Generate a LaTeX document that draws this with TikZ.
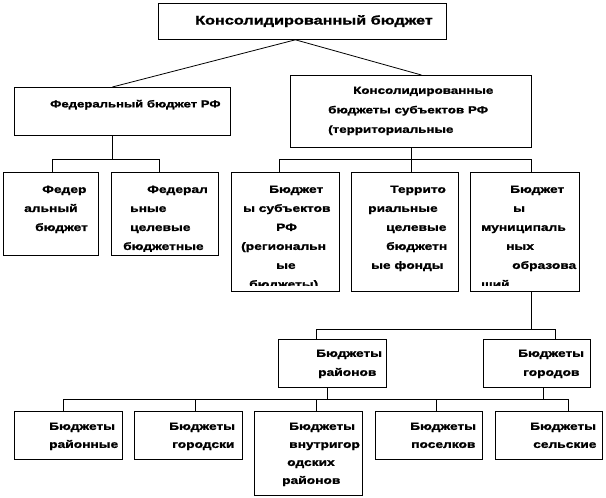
\documentclass[tikz,border=0pt]{standalone}
\usepackage{fontspec}
\setmainfont[FakeStretch=1.3, BoldFeatures={FakeBold=1.5}]{Liberation Sans}

\tikzset{
	box/.style={draw, line width=0.8pt, inner sep=0pt, anchor=north west},
	txt/.style={inner sep=0pt, anchor=north west, align=left, font=\bfseries\fontsize{10.6}{19}\selectfont},
	txtlow/.style={txt, font=\bfseries\fontsize{10.6}{18}\selectfont},
	link/.style={line width=0.8pt}
}

\begin{document}
\begin{tikzpicture}[x=1pt, y=-1pt]
	\useasboundingbox (0,0) rectangle (606,498);

	% Top box
	\node[box, minimum width=288, minimum height=36] (top) at (158,3) {};
	\node[txt, font=\bfseries\fontsize{12.5}{16}\selectfont] (topT) at (195,15) {Консолидированный бюджет};

	% Second level
	\node[box, minimum width=216, minimum height=48] (fed) at (14,87) {};
	\node[txt, font=\bfseries\fontsize{10.1}{19}\selectfont] (fedT) at (50,99.7) {Федеральный бюджет РФ};
	\node[box, minimum width=241, minimum height=72] (reg) at (290,75) {};
	\node[txt, font=\bfseries\fontsize{10.3}{19.5}\selectfont] (regT) at (328,86.6)
		{\hspace*{25pt}Консолидированные\\бюджеты субъектов РФ\\(территориальные};
	\draw[link] ([xshift=-7pt]top.south) -- ([xshift=-10pt]fed.north);
	\draw[link] ([xshift=-7pt]top.south) -- ([xshift=10.5pt]reg.north);

	% Third level
	\node[box, minimum width=95, minimum height=83] (a1) at (3,172) {};
	\node[box, minimum width=107, minimum height=83] (a2) at (111,172) {};
	\node[box, minimum width=108, minimum height=119] (a3) at (231,172) {};
	\node[box, minimum width=107, minimum height=119] (a4) at (351,172) {};
	\node[box, minimum width=109, minimum height=119] (a5) at (470,172) {};

	\node[txt] (a1T) at (24,185.4) {\hspace*{18pt}Федер\\альный\\\hspace*{11pt}бюджет};
	\begin{scope}
		\clip (a2.north west) rectangle ([yshift=4pt]a2.south east);
		\node[txt] (a2T) at (123,185.4) {\hspace*{24pt}Федерал\\\hspace*{7pt}ьные\\\hspace*{7pt}целевые\\бюджетные};
	\end{scope}
	\begin{scope}
		\clip (a3.north west) rectangle ([yshift=6.5pt]a3.south east);
		\node[txt] (a3T) at (241,185.4) {\hspace*{28pt}Бюджет\\\hspace*{2pt}ы субъектов\\\hspace*{35pt}РФ\\(региональн\\\hspace*{35pt}ые\\\hspace*{8pt}бюджеты)};
	\end{scope}
	\node[txt] (a4T) at (368,185.4) {\hspace*{22pt}Террито\\риальные\\\hspace*{18pt}целевые\\\hspace*{18pt}бюджетн\\\hspace*{3pt}ые фонды};
	\begin{scope}
		\clip (a5.north west) rectangle ([yshift=6.5pt]a5.south east);
		\node[txt] (a5T) at (481,185.4) {\hspace*{29pt}Бюджет\\\hspace*{32pt}ы\\муниципаль\\\hspace*{25pt}ных\\\hspace*{31pt}образова\\ший};
	\end{scope}

	% federal bus
	\coordinate (busF) at (0,159);
	\draw[link] ([xshift=-10pt]fed.south) -- ([xshift=-10pt]fed.south |- busF);
	\draw[link] ([xshift=1.5pt]a1.north) |- ([xshift=-5.5pt]a2.north |- busF) -- ([xshift=-5.5pt]a2.north);
	% regional bus
	\draw[link] ([xshift=0.5pt]reg.south) -- ([xshift=0.5pt]reg.south |- a4.north);
	\draw[link] ([xshift=-6pt]a3.north) |- ([xshift=6.5pt]a5.north |- busF) -- ([xshift=6.5pt]a5.north);

	% Municipal level
	\node[box, minimum width=108, minimum height=48] (raion) at (278,339) {};
	\node[box, minimum width=107, minimum height=48] (gorod) at (483,339) {};
	\node[txt] (raionT) at (316,349.4) {Бюджеты\\\hspace*{2pt}районов};
	\node[txt] (gorodT) at (518,349.4) {Бюджеты\\\hspace*{5pt}городов};

	\coordinate (busM) at (0,329);
	\draw[link] ([xshift=6.5pt]a5.south) -- ([xshift=6.5pt]a5.south |- busM);
	\draw[link] ([xshift=-16pt]raion.north) |- ([xshift=18.5pt]gorod.north |- busM) -- ([xshift=18.5pt]gorod.north);

	% Bottom level
	\node[box, minimum width=108, minimum height=48] (b1) at (14,411) {};
	\node[box, minimum width=108, minimum height=48] (b2) at (134,411) {};
	\node[box, minimum width=108, minimum height=84] (b3) at (254,411) {};
	\node[box, minimum width=107, minimum height=48] (b4) at (375,411) {};
	\node[box, minimum width=107, minimum height=48] (b5) at (495,411) {};

	\node[txtlow] (b1T) at (49,422.4) {Бюджеты\\районные};
	\node[txtlow] (b2T) at (169,422.4) {Бюджеты\\\hspace*{3pt}городски};
	\node[txtlow] (b3T) at (282,422.4) {\hspace*{7pt}Бюджеты\\\hspace*{7pt}внутригор\\\hspace*{5pt}одских\\районов};
	\node[txtlow] (b4T) at (410,422.4) {Бюджеты\\\hspace*{1pt}поселков};
	\node[txtlow] (b5T) at (530,422.4) {Бюджеты\\\hspace*{3pt}сельские};

	\coordinate (busB) at (0,399);
	\draw[link] ([xshift=-5pt]raion.south) -- ([xshift=-5pt]raion.south |- busB);
	\draw[link] ([xshift=6.5pt]gorod.south) -- ([xshift=6.5pt]gorod.south |- busB);
	\draw[link] ([xshift=-5pt]b1.north) |- ([xshift=19.5pt]b5.north |- busB) -- ([xshift=19.5pt]b5.north);
	\foreach \n/\s in {b2/7,b3/8,b4/7.5}
		\draw[link] ([xshift=\s pt]\n.north) -- ([xshift=\s pt]\n.north |- busB);

\end{tikzpicture}
\end{document}
